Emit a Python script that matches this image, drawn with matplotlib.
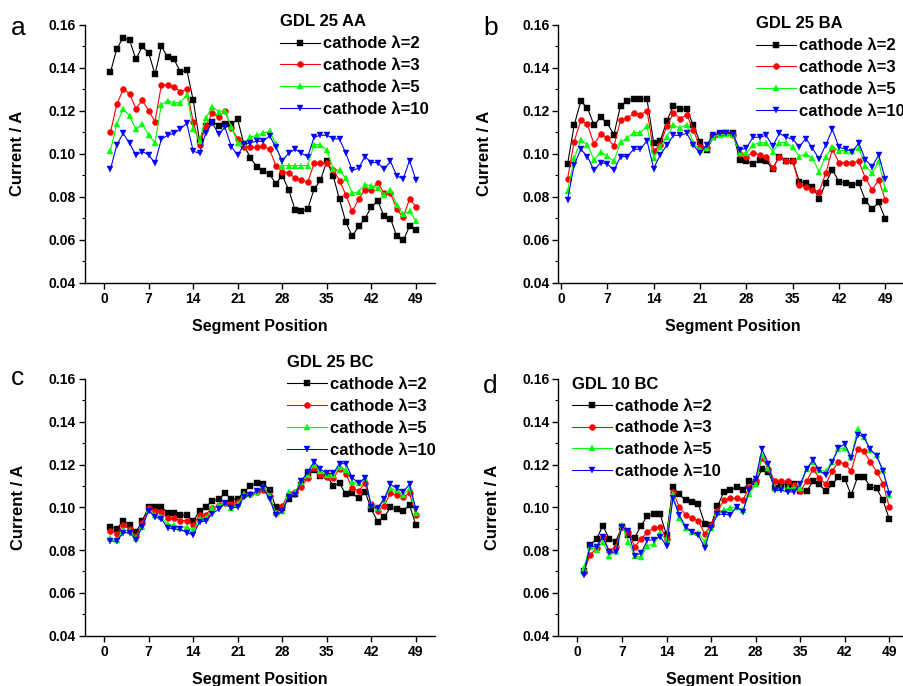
import numpy as np
import matplotlib
matplotlib.use('Agg')
import matplotlib.pyplot as plt
from matplotlib.ticker import MultipleLocator, FormatStrFormatter

# Arial-like bold text everywhere
plt.rcParams['font.family'] = ['Liberation Sans', 'DejaVu Sans']
plt.rcParams['font.weight'] = 'bold'
plt.rcParams['axes.labelweight'] = 'bold'

# segment positions along the channel
segments = list(range(1, 50))
series_labels = ['cathode λ=2', 'cathode λ=3', 'cathode λ=5', 'cathode λ=10']
x_ticks = [0, 7, 14, 21, 28, 35, 42, 49]
y_ticks = [0.04, 0.06, 0.08, 0.10, 0.12, 0.14, 0.16]

# --- GDL 25 AA (a) ---
aa_l2 = [0.138, 0.149, 0.154, 0.153, 0.144, 0.150, 0.147, 0.137, 0.150, 0.145,
         0.144, 0.138, 0.139, 0.125, 0.106, 0.113, 0.115, 0.113, 0.114, 0.114,
         0.116, 0.104, 0.098, 0.094, 0.092, 0.0905, 0.086, 0.0898, 0.0833, 0.074,
         0.0732, 0.0742, 0.0836, 0.0876, 0.0966, 0.0896, 0.0787, 0.068, 0.0615, 0.0662,
         0.0698, 0.0752, 0.078, 0.0709, 0.0698, 0.0615, 0.0596, 0.0662, 0.0643]
aa_l3 = [0.110, 0.123, 0.130, 0.128, 0.121, 0.125, 0.120, 0.115, 0.132, 0.132,
         0.131, 0.129, 0.130, 0.115, 0.104, 0.113, 0.119, 0.117, 0.120, 0.112,
         0.107, 0.103, 0.103, 0.103, 0.1035, 0.102, 0.0945, 0.0914, 0.0912, 0.0886,
         0.0878, 0.0867, 0.0956, 0.0956, 0.0956, 0.0925, 0.0875, 0.0808, 0.0731, 0.0788,
         0.0832, 0.0832, 0.0866, 0.0816, 0.0816, 0.0742, 0.0703, 0.079, 0.0754]
aa_l5 = [0.1015, 0.1139, 0.121, 0.1176, 0.1114, 0.1139, 0.1086, 0.1052, 0.1229, 0.1248,
         0.1238, 0.1238, 0.1274, 0.1116, 0.1061, 0.1167, 0.122, 0.1196, 0.1201, 0.1124,
         0.1052, 0.105, 0.1077, 0.1086, 0.1096, 0.1105, 0.1045, 0.0945, 0.0945, 0.0945,
         0.0945, 0.0945, 0.1043, 0.1043, 0.1016, 0.093, 0.0922, 0.0885, 0.0815, 0.0824,
         0.0855, 0.0852, 0.084, 0.0808, 0.0832, 0.076, 0.0717, 0.0733, 0.0686]
aa_l10 = [0.0928, 0.1041, 0.1095, 0.1049, 0.0993, 0.101, 0.0995, 0.0956, 0.1068, 0.1086,
          0.1095, 0.1117, 0.1142, 0.1012, 0.1002, 0.1099, 0.1142, 0.1092, 0.1123, 0.1033,
          0.0993, 0.1044, 0.1052, 0.1058, 0.1058, 0.1083, 0.1031, 0.0968, 0.1002, 0.1021,
          0.1002, 0.0987, 0.1077, 0.1086, 0.1086, 0.1071, 0.1068, 0.1002, 0.0922, 0.0933,
          0.0987, 0.0959, 0.0959, 0.0928, 0.0964, 0.0897, 0.0883, 0.0968, 0.0878]

# --- GDL 25 BA (b) ---
ba_l2 = [0.0951, 0.1134, 0.1245, 0.1213, 0.1134, 0.117, 0.1142, 0.1089, 0.1224, 0.1245,
         0.1254, 0.1254, 0.1254, 0.1052, 0.106, 0.1153, 0.1224, 0.1209, 0.1207, 0.1133,
         0.1055, 0.1016, 0.1078, 0.1092, 0.1099, 0.1099, 0.0971, 0.0968, 0.095, 0.0971,
         0.0964, 0.0931, 0.0987, 0.0968, 0.0968, 0.087, 0.0863, 0.0847, 0.0791, 0.0863,
         0.0925, 0.087, 0.0863, 0.0855, 0.0863, 0.0782, 0.0742, 0.0773, 0.0697]
ba_l3 = [0.0884, 0.1057, 0.1155, 0.1137, 0.1044, 0.1092, 0.1075, 0.1036, 0.1156, 0.1165,
         0.1189, 0.1181, 0.1201, 0.1012, 0.1043, 0.113, 0.119, 0.1164, 0.1181, 0.1111,
         0.103, 0.1025, 0.1083, 0.1093, 0.1096, 0.1088, 0.0999, 0.0987, 0.1005, 0.0995,
         0.0987, 0.0933, 0.0987, 0.0968, 0.0968, 0.0855, 0.0844, 0.0832, 0.0824, 0.0909,
         0.1021, 0.0959, 0.0959, 0.0959, 0.0964, 0.0886, 0.0832, 0.0878, 0.0785]
ba_l5 = [0.0827, 0.0978, 0.1064, 0.1043, 0.0971, 0.1007, 0.099, 0.0965, 0.1054, 0.1074,
         0.1099, 0.1099, 0.1127, 0.0979, 0.1033, 0.108, 0.1134, 0.112, 0.1136, 0.1049,
         0.1018, 0.1025, 0.108, 0.1088, 0.1092, 0.1088, 0.1002, 0.1002, 0.1041, 0.1052,
         0.1052, 0.101, 0.1052, 0.1052, 0.1033, 0.0987, 0.1, 0.0978, 0.0917, 0.0987,
         0.1031, 0.1015, 0.1015, 0.1015, 0.1026, 0.0943, 0.0909, 0.0964, 0.0835]
ba_l10 = [0.0785, 0.0948, 0.1021, 0.0987, 0.0922, 0.0959, 0.0953, 0.0922, 0.0987, 0.0987,
          0.1021, 0.1021, 0.1061, 0.0931, 0.0995, 0.104, 0.1086, 0.1086, 0.1095, 0.1041,
          0.1002, 0.1041, 0.1088, 0.1096, 0.1096, 0.1093, 0.1018, 0.1026, 0.1077, 0.1077,
          0.1086, 0.1036, 0.1095, 0.1077, 0.1068, 0.1033, 0.1071, 0.1026, 0.0975, 0.1041,
          0.1114, 0.103, 0.1021, 0.101, 0.1049, 0.0971, 0.094, 0.0994, 0.0881]

# --- GDL 25 BC (c) ---
bc_l2 = [0.0909, 0.0898, 0.0937, 0.0917, 0.0882, 0.0937, 0.1002, 0.1002, 0.1001, 0.0974,
         0.0974, 0.0963, 0.0963, 0.0935, 0.0982, 0.1002, 0.1029, 0.1037, 0.1065, 0.1038,
         0.1038, 0.1073, 0.110, 0.1112, 0.1110, 0.108, 0.1001, 0.0998, 0.1038, 0.106,
         0.1104, 0.1158, 0.1174, 0.1147, 0.1147, 0.1101, 0.1112, 0.106, 0.1065, 0.1041,
         0.1073, 0.0991, 0.0932, 0.0954, 0.0999, 0.0991, 0.0984, 0.101, 0.0916]
bc_l3 = [0.089, 0.0873, 0.0917, 0.0898, 0.0865, 0.0924, 0.0995, 0.0984, 0.0976, 0.0948,
         0.0948, 0.0938, 0.0937, 0.0917, 0.0963, 0.0966, 0.0998, 0.101, 0.1018, 0.1016,
         0.1026, 0.1057, 0.106, 0.1073, 0.1082, 0.1053, 0.0971, 0.1007, 0.1063, 0.1073,
         0.1096, 0.1139, 0.1185, 0.1151, 0.1143, 0.1135, 0.118, 0.1155, 0.1091, 0.1076,
         0.1112, 0.1013, 0.0984, 0.1007, 0.1065, 0.1057, 0.1049, 0.1065, 0.0963]
bc_l5 = [0.0854, 0.0846, 0.0893, 0.0888, 0.0854, 0.0909, 0.0987, 0.0963, 0.0955, 0.092,
         0.0917, 0.0904, 0.0909, 0.0893, 0.0945, 0.0948, 0.0995, 0.101, 0.1018, 0.0995,
         0.1013, 0.106, 0.106, 0.1073, 0.1096, 0.1053, 0.0971, 0.0982, 0.1073, 0.1073,
         0.112, 0.1151, 0.12, 0.1169, 0.1151, 0.1151, 0.119, 0.1174, 0.112, 0.1112,
         0.1135, 0.101, 0.0998, 0.1034, 0.1088, 0.108, 0.1057, 0.1088, 0.0971]
bc_l10 = [0.0842, 0.0842, 0.0881, 0.0881, 0.0849, 0.0909, 0.0984, 0.0955, 0.0945, 0.0904,
          0.0898, 0.0896, 0.0881, 0.087, 0.0932, 0.0935, 0.097, 0.0991, 0.1018, 0.0995,
          0.1002, 0.1049, 0.1057, 0.1076, 0.1088, 0.1038, 0.0963, 0.0982, 0.1049, 0.1057,
          0.1122, 0.1166, 0.1213, 0.1178, 0.1158, 0.1158, 0.1204, 0.1204, 0.1138, 0.1112,
          0.1138, 0.1002, 0.0998, 0.1038, 0.1107, 0.1088, 0.1073, 0.1107, 0.0991]

# --- GDL 10 BC (d) ---
g10_l2 = [0.070, 0.0824, 0.085, 0.0914, 0.0852, 0.0839, 0.0909, 0.087, 0.0858, 0.0914,
          0.096, 0.0967, 0.0967, 0.087, 0.1096, 0.106, 0.1033, 0.1026, 0.1013, 0.0922,
          0.0917, 0.1005, 0.1072, 0.1079, 0.1096, 0.1079, 0.1122, 0.1119, 0.1178, 0.1166,
          0.1088, 0.1111, 0.1104, 0.1111, 0.1075, 0.1075, 0.1122, 0.1107, 0.1075, 0.1107,
          0.1141, 0.1132, 0.1057, 0.1141, 0.1141, 0.1096, 0.1088, 0.1033, 0.0943]
g10_l3 = [0.0697, 0.0777, 0.0808, 0.0863, 0.0796, 0.0816, 0.0909, 0.0886, 0.0816, 0.085,
          0.0886, 0.0901, 0.0909, 0.0852, 0.1072, 0.1002, 0.0964, 0.0948, 0.0936, 0.0875,
          0.0917, 0.0982, 0.1033, 0.1041, 0.1041, 0.1033, 0.1096, 0.1122, 0.1231, 0.1181,
          0.1122, 0.1122, 0.1122, 0.1104, 0.1075, 0.1122, 0.1178, 0.1138, 0.1107, 0.1169,
          0.1212, 0.1204, 0.1169, 0.1274, 0.1261, 0.1212, 0.1166, 0.1111, 0.0999]
g10_l5 = [0.0718, 0.0816, 0.08, 0.0836, 0.0774, 0.0793, 0.0917, 0.0839, 0.0773, 0.0765,
          0.0821, 0.0827, 0.0878, 0.0847, 0.1064, 0.0951, 0.0901, 0.0886, 0.0878, 0.0839,
          0.0901, 0.0972, 0.0987, 0.0995, 0.1002, 0.0987, 0.1064, 0.1107, 0.1246, 0.1184,
          0.1091, 0.1091, 0.1088, 0.1088, 0.1091, 0.1181, 0.1212, 0.1173, 0.1169, 0.1212,
          0.1274, 0.1277, 0.1235, 0.1367, 0.1328, 0.1266, 0.1243, 0.1173, 0.1057]
g10_l10 = [0.0684, 0.0819, 0.0816, 0.0863, 0.079, 0.079, 0.0909, 0.0889, 0.0774, 0.0785,
           0.0847, 0.0847, 0.0863, 0.0819, 0.1041, 0.0964, 0.0909, 0.0883, 0.087, 0.0811,
           0.0905, 0.0967, 0.0967, 0.0964, 0.1002, 0.0979, 0.108, 0.1134, 0.1271, 0.1204,
           0.108, 0.108, 0.1072, 0.1072, 0.1107, 0.1181, 0.122, 0.1172, 0.115, 0.1212,
           0.1277, 0.1296, 0.1231, 0.134, 0.1328, 0.1271, 0.124, 0.1169, 0.1064]

W, H = 904, 686

# line styles for the four flow ratios
styles = [
    dict(color='black', marker='s', markersize=3.8),
    dict(color='#ff0000', marker='o', markersize=4.3),
    dict(color='#00ff00', marker='^', markersize=4.6),
    dict(color='#0000ff', marker='v', markersize=4.6),
]

# panel layout in pixels: left, top, right, bottom, xlim, letter pos, legend pos, ylabel x
panels = [
    dict(letter='a', title='GDL 25 AA', data=[aa_l2, aa_l3, aa_l5, aa_l10],
         box=(85, 25, 435, 282.5), xlim=(-3, 52), letter_xy=(11, 35),
         leg_xy=(280, 14.5), ylab_x=-0.171),
    dict(letter='b', title='GDL 25 BA', data=[ba_l2, ba_l3, ba_l5, ba_l10],
         box=(558.3, 25, 906.5, 282.5), xlim=(-0.4, 52.2), letter_xy=(483, 35),
         leg_xy=(756, 16.5), ylab_x=-0.19),
    dict(letter='c', title='GDL 25 BC', data=[bc_l2, bc_l3, bc_l5, bc_l10],
         box=(85, 379, 435, 635.5), xlim=(-3, 52), letter_xy=(11, 385),
         leg_xy=(286.7, 355.2), ylab_x=-0.169),
    dict(letter='d', title='GDL 10 BC', data=[g10_l2, g10_l3, g10_l5, g10_l10],
         box=(558.3, 379, 908.5, 635.5), xlim=(-3, 52), letter_xy=(483, 393),
         leg_xy=(571.7, 376.8), ylab_x=-0.167),
]

fig = plt.figure(figsize=(W / 100, H / 100), dpi=100, facecolor='white')

for p in panels:
    l, t, r, b = p['box']
    ax = fig.add_axes([l / W, 1 - b / H, (r - l) / W, (b - t) / H])

    for series, st, lab in zip(p['data'], styles, series_labels):
        ax.plot(segments, series, linewidth=0.8, label=lab,
                markeredgewidth=0.3, **st)

    ax.set_xlim(*p['xlim'])
    ax.set_ylim(0.04, 0.16)
    ax.set_xticks(x_ticks)
    ax.set_yticks(y_ticks)
    ax.yaxis.set_minor_locator(MultipleLocator(0.01))
    ax.yaxis.set_major_formatter(FormatStrFormatter('%.2f'))

    for side in ['top', 'right']:
        ax.spines[side].set_visible(False)
    for side in ['left', 'bottom']:
        ax.spines[side].set_linewidth(1.0)
    ax.tick_params(which='major', direction='out', length=4, width=1.0,
                   labelsize=10, pad=2.5)
    ax.tick_params(which='minor', direction='out', length=2.5, width=0.8)

    ax.set_xlabel('Segment Position', fontsize=11.5, fontweight='bold')
    ax.set_ylabel('Current / A', fontsize=12, fontweight='bold')
    ax.xaxis.set_label_coords(0.5, -0.142)
    ax.yaxis.set_label_coords(p['ylab_x'], 0.5)

    lx, ly = p['leg_xy']
    ax.legend(title=p['title'], loc='upper left',
              bbox_to_anchor=(lx / W, 1 - ly / H), bbox_transform=fig.transFigure,
              frameon=False, borderpad=0, borderaxespad=0, numpoints=1,
              handlelength=2.4, handletextpad=0.2, labelspacing=0.41,
              prop={'weight': 'bold', 'size': 12},
              title_fontproperties={'weight': 'bold', 'size': 12},
              alignment='left')

    px, py = p['letter_xy']
    fig.text(px / W, 1 - py / H, p['letter'], fontsize=19, fontweight='normal',
             ha='left', va='baseline')

fig.savefig('out.png', dpi=100, facecolor='white')
